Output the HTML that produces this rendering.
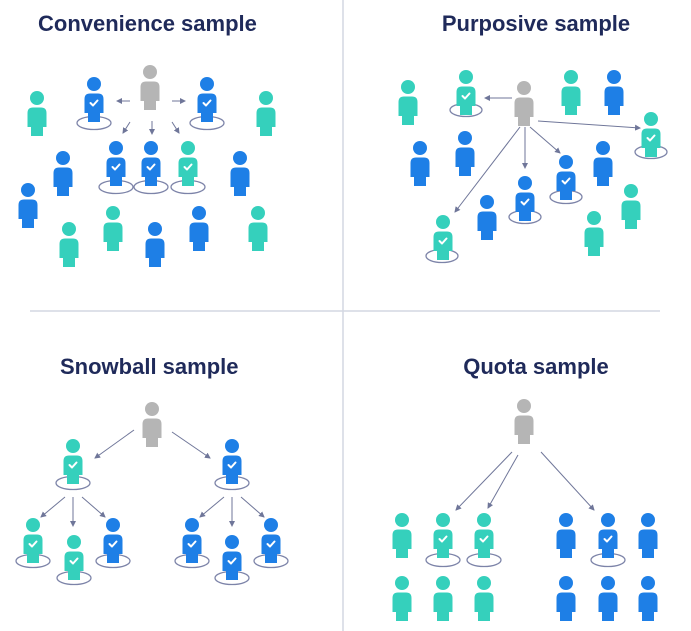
<!DOCTYPE html>
<html><head><meta charset="utf-8"><style>
body{margin:0;background:#fff;}
svg{display:block}
text{font-family:"Liberation Sans",sans-serif;font-weight:bold;font-size:22px;fill:#1f2a5a}
</style></head><body>
<svg width="691" height="631" viewBox="0 0 691 631" xmlns="http://www.w3.org/2000/svg">
<defs>
<g id="p"><circle cx="0" cy="0" r="7"/><path d="M-9.5,15 Q-9.5,9.5 -4,9.5 H4 Q9.5,9.5 9.5,15 V29 H6 V38 H-6 V29 H-9.5 Z"/></g>
<g id="ck"><polyline points="-3.5,19 -1,21.5 3.5,16.5" fill="none" stroke="#fff" stroke-width="2" stroke-linecap="round" stroke-linejoin="round"/></g>
<marker id="a" markerWidth="6" markerHeight="6" refX="5" refY="3" orient="auto"><path d="M0,0 L6,3 L0,6 Z" fill="#6f7699"/></marker>
</defs>
<line x1="343" y1="0" x2="343" y2="631" stroke="#d4d7e2" stroke-width="1.5"/>
<line x1="30" y1="311" x2="660" y2="311" stroke="#d4d7e2" stroke-width="1.5"/>
<text x="38" y="31">Convenience sample</text>
<text x="536" y="31" text-anchor="middle">Purposive sample</text>
<text x="60" y="374">Snowball sample</text>
<text x="536" y="374" text-anchor="middle">Quota sample</text>
<g fill="none" stroke="#7c83a8" stroke-width="1.3">
<ellipse cx="94" cy="123" rx="17" ry="6.5"/><ellipse cx="207" cy="123" rx="17" ry="6.5"/>
<ellipse cx="116" cy="187" rx="17" ry="6.5"/><ellipse cx="151" cy="187" rx="17" ry="6.5"/><ellipse cx="188" cy="187" rx="17" ry="6.5"/>
<ellipse cx="466" cy="110" rx="16" ry="6.5"/><ellipse cx="651" cy="152" rx="16" ry="6.5"/><ellipse cx="566" cy="197" rx="16" ry="6.5"/><ellipse cx="525" cy="217" rx="16" ry="6.5"/><ellipse cx="442" cy="256" rx="16" ry="6.5"/>
<ellipse cx="73" cy="483" rx="17" ry="6.5"/><ellipse cx="232" cy="483" rx="17" ry="6.5"/>
<ellipse cx="33" cy="561" rx="17" ry="6.5"/><ellipse cx="74" cy="578" rx="17" ry="6.5"/><ellipse cx="113" cy="561" rx="17" ry="6.5"/>
<ellipse cx="192" cy="561" rx="17" ry="6.5"/><ellipse cx="232" cy="578" rx="17" ry="6.5"/><ellipse cx="271" cy="561" rx="17" ry="6.5"/>
<ellipse cx="443" cy="560" rx="17" ry="6.5"/><ellipse cx="484" cy="560" rx="17" ry="6.5"/><ellipse cx="608" cy="560" rx="17" ry="6.5"/>
</g>
<g stroke="#6f7699" stroke-width="1" marker-end="url(#a)">
<line x1="130" y1="101" x2="117" y2="101"/><line x1="172" y1="101" x2="185" y2="101"/>
<line x1="130" y1="122" x2="123" y2="133"/><line x1="152" y1="121" x2="152" y2="134"/><line x1="172" y1="122" x2="179" y2="133"/>
<line x1="512" y1="98" x2="485" y2="98"/><line x1="538" y1="121" x2="640" y2="128"/><line x1="520" y1="127" x2="455" y2="212"/><line x1="525" y1="127" x2="525" y2="168"/><line x1="530" y1="127" x2="560" y2="153"/>
<line x1="134" y1="430" x2="95" y2="458"/><line x1="172" y1="432" x2="210" y2="458"/>
<line x1="65" y1="497" x2="41" y2="517"/><line x1="73" y1="497" x2="73" y2="526"/><line x1="82" y1="497" x2="105" y2="517"/>
<line x1="224" y1="497" x2="200" y2="517"/><line x1="232" y1="497" x2="232" y2="526"/><line x1="241" y1="497" x2="264" y2="517"/>
<line x1="512" y1="452" x2="456" y2="510"/><line x1="518" y1="455" x2="488" y2="508"/><line x1="541" y1="452" x2="594" y2="510"/>
</g>
<g fill="#b5b5b5"><use href="#p" x="150" y="72"/><use href="#p" x="524" y="88"/><use href="#p" x="152" y="409"/><use href="#p" x="524" y="406"/></g>
<g fill="#1e7fe6">
<use href="#p" x="94" y="84"/><use href="#p" x="207" y="84"/><use href="#p" x="116" y="148"/><use href="#p" x="151" y="148"/>
<use href="#p" x="63" y="158"/><use href="#p" x="240" y="158"/><use href="#p" x="28" y="190"/><use href="#p" x="155" y="229"/><use href="#p" x="199" y="213"/>
<use href="#p" x="614" y="77"/><use href="#p" x="420" y="148"/><use href="#p" x="465" y="138"/><use href="#p" x="566" y="162"/><use href="#p" x="603" y="148"/><use href="#p" x="525" y="183"/><use href="#p" x="487" y="202"/>
<use href="#p" x="232" y="446"/><use href="#p" x="113" y="525"/><use href="#p" x="192" y="525"/><use href="#p" x="232" y="542"/><use href="#p" x="271" y="525"/>
<use href="#p" x="566" y="520"/><use href="#p" x="608" y="520"/><use href="#p" x="648" y="520"/><use href="#p" x="566" y="583"/><use href="#p" x="608" y="583"/><use href="#p" x="648" y="583"/>
</g>
<g fill="#35d0bc">
<use href="#p" x="37" y="98"/><use href="#p" x="266" y="98"/><use href="#p" x="188" y="148"/><use href="#p" x="69" y="229"/><use href="#p" x="113" y="213"/><use href="#p" x="258" y="213"/>
<use href="#p" x="408" y="87"/><use href="#p" x="466" y="77"/><use href="#p" x="571" y="77"/><use href="#p" x="651" y="119"/><use href="#p" x="631" y="191"/><use href="#p" x="443" y="222"/><use href="#p" x="594" y="218"/>
<use href="#p" x="73" y="446"/><use href="#p" x="33" y="525"/><use href="#p" x="74" y="542"/>
<use href="#p" x="402" y="520"/><use href="#p" x="443" y="520"/><use href="#p" x="484" y="520"/><use href="#p" x="402" y="583"/><use href="#p" x="443" y="583"/><use href="#p" x="484" y="583"/>
</g>
<g>
<use href="#ck" x="94" y="84"/><use href="#ck" x="207" y="84"/><use href="#ck" x="116" y="148"/><use href="#ck" x="151" y="148"/><use href="#ck" x="188" y="148"/>
<use href="#ck" x="466" y="77"/><use href="#ck" x="651" y="119"/><use href="#ck" x="566" y="162"/><use href="#ck" x="525" y="183"/><use href="#ck" x="443" y="222"/>
<use href="#ck" x="73" y="446"/><use href="#ck" x="232" y="446"/><use href="#ck" x="33" y="525"/><use href="#ck" x="74" y="542"/><use href="#ck" x="113" y="525"/><use href="#ck" x="192" y="525"/><use href="#ck" x="232" y="542"/><use href="#ck" x="271" y="525"/>
<use href="#ck" x="443" y="520"/><use href="#ck" x="484" y="520"/><use href="#ck" x="608" y="520"/>
</g>
</svg>
</body></html>
